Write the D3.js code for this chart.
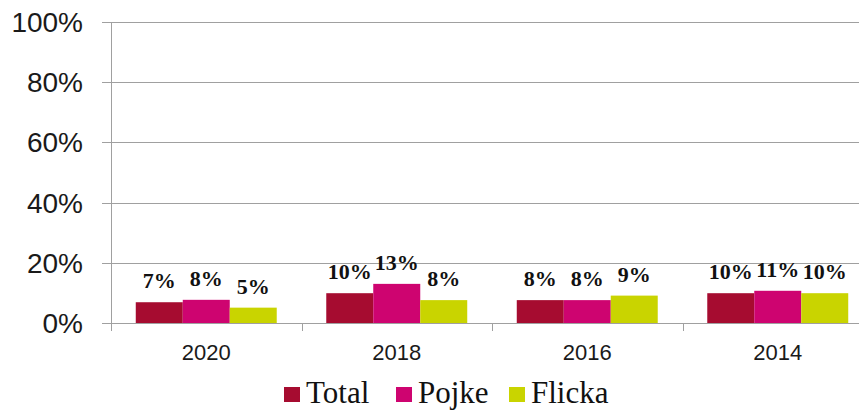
<!DOCTYPE html>
<html>
<head>
<meta charset="utf-8">
<script src="https://cdn.jsdelivr.net/npm/d3@7"></script>
<style>
  body { margin: 0; background: #fff; }
</style>
</head>
<body>
<script>
var years = ["2020", "2018", "2016", "2014"];
var seriesNames = ["Total", "Pojke", "Flicka"];
var total = [6.9, 9.9, 7.6, 9.9];
var pojke = [7.7, 13.0, 7.6, 10.7];
var flicka = [5.1, 7.6, 9.1, 9.9];
var labelsTotal = ["7%", "10%", "8%", "10%"];
var labelsPojke = ["8%", "13%", "8%", "11%"];
var labelsFlicka = ["5%", "8%", "9%", "10%"];
var yTicks = [0, 20, 40, 60, 80, 100];
var colors = ["#A60C30", "#CE0470", "#C9D400"];

var width = 859,
    height = 412;

var svg = d3.select("body").append("svg")
    .attr("width", width)
    .attr("height", height);

var x0 = 111, x1 = 873, yTop = 22, yBot = 323;

var x = d3.scaleBand()
    .domain(years)
    .range([x0, x1]);

var xs = d3.scaleBand()
    .domain(seriesNames)
    .range([0, x.bandwidth()])
    .paddingOuter(0.527)
    .paddingInner(0);

var y = d3.scaleLinear()
    .domain([0, 100])
    .range([yBot, yTop]);

// gridlines
svg.append("g").selectAll("line")
    .data(yTicks)
    .enter().append("line")
      .attr("x1", x0 - 9).attr("x2", width)
      .attr("y1", function(d) { return Math.round(y(d)) + 0.5; })
      .attr("y2", function(d) { return Math.round(y(d)) + 0.5; })
      .attr("stroke", "#a0a0a0")
      .attr("stroke-width", 1);

svg.append("g").selectAll("text")
    .data(yTicks)
    .enter().append("text")
      .attr("x", 83)
      .attr("y", function(d) { return y(d); })
      .attr("dy", "0.36em")
      .attr("text-anchor", "end")
      .style("font-family", "Liberation Sans, Arial, sans-serif")
      .style("font-size", "28px")
      .attr("fill", "#1a1a1a")
      .text(function(d) { return d + "%"; });

// y axis line
svg.append("line")
    .attr("x1", x0 + 0.5).attr("x2", x0 + 0.5)
    .attr("y1", yTop).attr("y2", yBot + 8)
    .attr("stroke", "#a0a0a0");

// x ticks at category boundaries
var bounds = years.map(function(d) { return x(d); }).concat([x1]);
svg.append("g").selectAll("line")
    .data(bounds)
    .enter().append("line")
      .attr("x1", function(d) { return Math.round(d) + 0.5; })
      .attr("x2", function(d) { return Math.round(d) + 0.5; })
      .attr("y1", yBot).attr("y2", yBot + 8)
      .attr("stroke", "#a0a0a0");

svg.append("g").selectAll("text")
    .data(years)
    .enter().append("text")
      .attr("x", function(d) { return x(d) + x.bandwidth() / 2; })
      .attr("y", 360)
      .attr("text-anchor", "middle")
      .style("font-family", "Liberation Sans, Arial, sans-serif")
      .style("font-size", "22px")
      .attr("fill", "#1a1a1a")
      .text(function(d) { return d; });

var series = [
  {name: "Total", values: total, labels: labelsTotal},
  {name: "Pojke", values: pojke, labels: labelsPojke},
  {name: "Flicka", values: flicka, labels: labelsFlicka}
];

series.forEach(function(s, si) {
  var g = svg.append("g");
  g.selectAll("rect")
      .data(s.values)
      .enter().append("rect")
        .attr("x", function(d, i) { return x(years[i]) + xs(s.name); })
        .attr("width", xs.bandwidth())
        .attr("y", function(d) { return y(d); })
        .attr("height", function(d) { return y(0) - y(d); })
        .attr("fill", colors[si]);
  g.selectAll("text")
      .data(s.values)
      .enter().append("text")
        .attr("x", function(d, i) { return x(years[i]) + xs(s.name) + xs.bandwidth() / 2; })
        .attr("y", function(d) { return y(d) - 14; })
        .attr("text-anchor", "middle")
        .style("font-family", "Liberation Serif, Times New Roman, serif")
        .style("font-weight", "bold")
        .style("font-size", "22px")
        .attr("fill", "#111")
        .text(function(d, i) { return s.labels[i]; });
});

// legend
var legendX = [284, 396, 509];
var legend = svg.append("g").selectAll("g")
    .data(seriesNames)
    .enter().append("g")
      .attr("transform", function(d, i) { return "translate(" + legendX[i] + ",387)"; });
legend.append("rect")
    .attr("width", 16).attr("height", 15)
    .attr("fill", function(d, i) { return colors[i]; });
legend.append("text")
    .attr("x", 22)
    .attr("y", 16)
    .style("font-family", "Liberation Serif, Times New Roman, serif")
    .style("font-size", "31px")
    .attr("fill", "#111")
    .text(function(d) { return d; });
</script>
</body>
</html>
